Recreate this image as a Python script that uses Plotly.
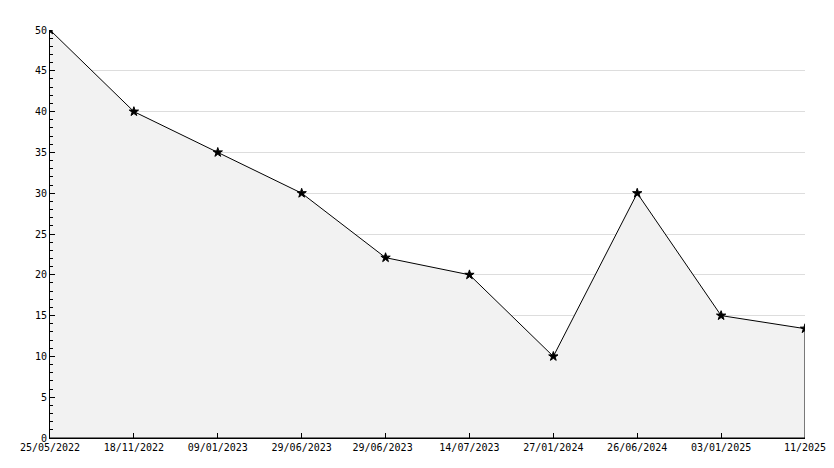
import plotly.graph_objects as go

dates = ["25/05/2022", "18/11/2022", "09/01/2023", "29/06/2023", "29/06/2023 ",
         "14/07/2023", "27/01/2024", "26/06/2024", "03/01/2025", "11/2025"]
values = [50, 40, 35, 30, 22.1, 20, 10, 30, 15, 13.4]
y_ticks = [0, 5, 10, 15, 20, 25, 30, 35, 40, 45, 50]

idx = list(range(len(dates)))

fig = go.Figure()
# filled area outlined (polygon built from the data)
fig.add_trace(go.Scatter(
    x=idx + [idx[-1], idx[0]],
    y=values + [0, 0],
    fill="toself", fillcolor="#f2f2f2",
    mode="lines", line=dict(color="black", width=1),
    hoverinfo="skip", showlegend=False,
))
fig.add_trace(go.Scatter(
    x=idx, y=values, mode="markers",
    marker=dict(symbol="star", size=7, color="black", line=dict(color="black", width=1)),
    showlegend=False,
))

font = dict(family="DejaVu Sans Mono", size=10, color="black")
fig.update_layout(
    width=834, height=468,
    margin=dict(l=50, r=29, t=30, b=30),
    paper_bgcolor="white", plot_bgcolor="white",
    font=font,
    xaxis=dict(
        range=[0, len(dates) - 1], tickmode="array", tickvals=idx, ticktext=dates,
        showgrid=False, zeroline=False, showline=True, linecolor="black", linewidth=1,
        ticks="inside", ticklen=5, tickcolor="black", tickfont=font, automargin=False,
    ),
    yaxis=dict(
        range=[0, 50], tickmode="array", tickvals=y_ticks,
        showgrid=True, gridcolor="#dddddd", gridwidth=1, zeroline=False,
        showline=True, linecolor="black", linewidth=1,
        ticks="inside", ticklen=5, tickcolor="black", tickfont=font, automargin=False,
        minor=dict(dtick=1, ticks="inside", ticklen=3, tickcolor="black", showgrid=False),
    ),
)
fig.write_html("out.html", config={"displayModeBar": False},
               post_script="document.body.style.margin='0';")
